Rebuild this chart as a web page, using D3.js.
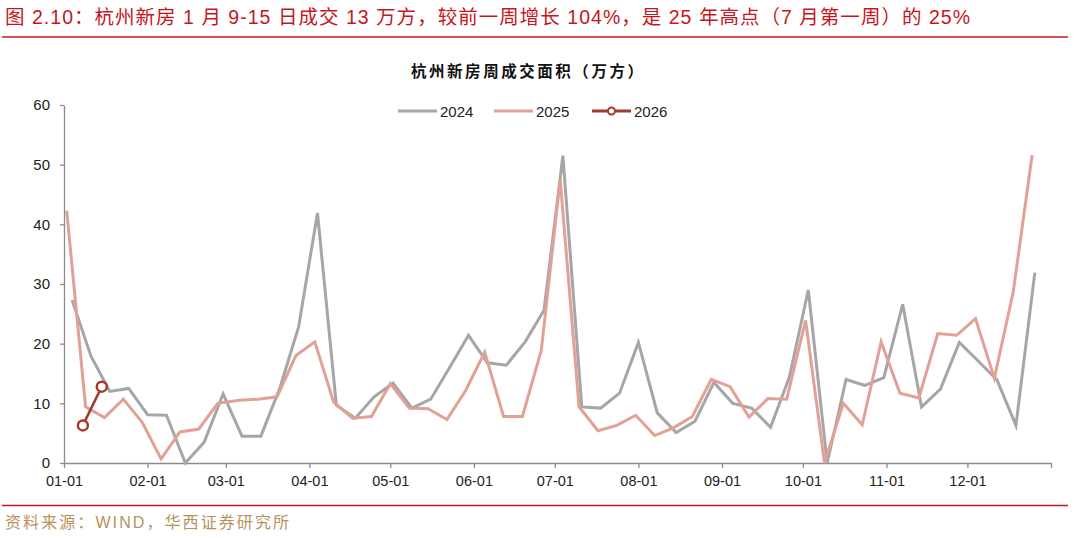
<!DOCTYPE html>
<html>
<head>
<meta charset="utf-8">
<script src="https://cdn.jsdelivr.net/npm/d3@7"></script>
<style>
  body { margin: 0; background: #fff; }
  svg { display: block; }
</style>
</head>
<body>
<svg id="chart" width="1080" height="538"></svg>
<script>
// weekly values (万方)
var seriesNames = ["2024", "2025", "2026"];
var seriesStart = ["2024-01-04", "2025-01-02", "2026-01-08"];
var values2024 = [27.3, 17.9, 12.0, 12.5, 8.1, 8.0, 0.0, 3.5, 11.6, 4.5, 4.5, 12.5, 22.8, 41.9, 9.7, 7.5,
    11.1, 13.4, 9.2, 10.7, 16.0, 21.4, 16.8, 16.4, 20.3, 25.6, 51.5, 9.4, 9.2, 11.7, 20.2, 8.4,
    5.1, 7.0, 13.5, 10.0, 9.2, 6.0, 14.4, 29.0, 0.0, 14.0, 13.0, 14.3, 26.6, 9.4, 12.4, 20.2,
    17.1, 13.9, 6.3, 31.9];
var values2025 = [42.3, 9.4, 7.6, 10.7, 6.8, 0.7, 5.2, 5.7, 10.0, 10.5, 10.7, 11.1, 18.0, 20.3, 10.2, 7.5,
    7.8, 13.3, 9.2, 9.1, 7.3, 12.2, 18.6, 7.8, 7.8, 18.9, 47.5, 9.4, 5.4, 6.3, 8.0, 4.6,
    5.9, 7.8, 14.0, 12.8, 7.7, 10.8, 10.7, 23.9, 0.0, 10.0, 6.4, 20.3, 11.7, 10.9, 21.7, 21.4,
    24.2, 14.2, 28.7, 51.6];
var values2026 = [6.3, 12.8];
var yTicks = [0, 10, 20, 30, 40, 50, 60];

var titleText = "图 2.10：杭州新房 1 月 9-15 日成交 13 万方，较前一周增长 104%，是 25 年高点（7 月第一周）的 25%";
var chartTitle = "杭州新房周成交面积（万方）";
var sourceText = "资料来源：WIND，华西证券研究所";

var colors = {"2024": "#a6a6a6", "2025": "#e2a196", "2026": "#a33a2e"};

var svg = d3.select("#chart"),
    margins = {"left": 64, "right": 29, "top": 105, "bottom": 75},
    width = 1080, height = 538;

var cjk = "'Liberation Sans', Arial, 'Noto Sans CJK SC', sans-serif";

// header
svg.append("text").attr("x", 5).attr("y", 24)
    .attr("textLength", 965).attr("lengthAdjust", "spacing")
    .text(titleText).style("font-family", cjk).style("font-size", "19.5px").attr("fill", "#c8161d");
svg.append("line").attr("x1", 2).attr("x2", 1068).attr("y1", 37).attr("y2", 37)
    .attr("stroke", "#c8161d").attr("stroke-width", 1.5);
svg.append("text").attr("x", 527).attr("y", 77).attr("text-anchor", "middle")
    .attr("textLength", 232).attr("lengthAdjust", "spacing")
    .text(chartTitle).style("font-family", cjk).style("font-size", "15.5px").style("font-weight", "bold").attr("fill", "#111");

// footer
svg.append("line").attr("x1", 2).attr("x2", 1068).attr("y1", 505.5).attr("y2", 505.5)
    .attr("stroke", "#c8161d").attr("stroke-width", 1.5);
svg.append("text").attr("x", 5).attr("y", 528)
    .attr("textLength", 284).attr("lengthAdjust", "spacing")
    .text(sourceText).style("font-family", cjk).style("font-size", "16px").attr("fill", "#b8925e");

var x = d3.scaleTime()
    .domain([new Date(2024, 0, 1), new Date(2025, 0, 1)])
    .range([margins.left, width - margins.right]);
var y = d3.scaleLinear().domain([0, 60]).range([height - margins.bottom, margins.top]);

// put every week on the 2024 month-day axis
function toAxisDate(d) { return new Date(2024, d.getMonth(), d.getDate()); }

var allValues = {"2024": values2024, "2025": values2025, "2026": values2026};
var series = seriesNames.map(function(name, k) {
    var start = d3.timeParse("%Y-%m-%d")(seriesStart[k]);
    return {
        name: name,
        points: allValues[name].map(function(v, i) {
            return {date: toAxisDate(d3.timeDay.offset(start, 7 * i)), value: v};
        })
    };
});

// axes
var monthTicks = d3.timeMonth.range(new Date(2024, 0, 1), new Date(2025, 0, 2));
var xAxis = d3.axisBottom(x).tickValues(monthTicks)
    .tickFormat(function(d) { return d.getFullYear() === 2025 ? "" : d3.timeFormat("%m-%d")(d); })
    .tickSize(5).tickSizeOuter(0);
var gx = svg.append("g").attr("transform", "translate(0," + y(0) + ")").call(xAxis);
gx.select(".domain").attr("stroke", "#8c8c8c").attr("stroke-width", 1.3);
gx.selectAll(".tick line").attr("stroke", "#8c8c8c").attr("stroke-width", 1.3);
gx.selectAll(".tick text").attr("dy", "1.05em").attr("fill", "#222")
    .style("font-family", cjk).style("font-size", "14.5px");

var yAxis = d3.axisLeft(y).tickValues(yTicks).tickSize(4).tickSizeOuter(0);
var gy = svg.append("g").attr("transform", "translate(" + margins.left + ",0)").call(yAxis);
gy.select(".domain").attr("stroke", "#8c8c8c").attr("stroke-width", 1.3);
gy.selectAll(".tick line").attr("stroke", "#8c8c8c").attr("stroke-width", 1.3);
gy.selectAll(".tick text").attr("x", -14).attr("fill", "#222")
    .style("font-family", cjk).style("font-size", "15px");

// lines
var line = d3.line().x(function(d) { return x(d.date); }).y(function(d) { return y(d.value); });

svg.append("g").selectAll("path").data(series).enter().append("path")
    .attr("d", function(d) { return line(d.points); })
    .attr("fill", "none")
    .attr("stroke", function(d) { return colors[d.name]; })
    .attr("stroke-width", function(d) { return d.name === "2026" ? 2.5 : 3; })
    .attr("stroke-linejoin", "miter");

svg.append("g").selectAll("circle").data(series[2].points).enter().append("circle")
    .attr("cx", function(d) { return x(d.date); })
    .attr("cy", function(d) { return y(d.value); })
    .attr("r", 5).attr("fill", "#fff")
    .attr("stroke", colors["2026"]).attr("stroke-width", 2.5);

// legend
var legendX = [398, 494, 592];
var legend = svg.append("g").selectAll("g").data(seriesNames).enter().append("g")
    .attr("transform", function(d, i) { return "translate(" + legendX[i] + ",111)"; });
legend.append("line").attr("x1", 0).attr("x2", 39).attr("y1", 0).attr("y2", 0)
    .attr("stroke", function(d) { return colors[d]; }).attr("stroke-width", 3);
legend.filter(function(d) { return d === "2026"; }).append("circle")
    .attr("cx", 19.5).attr("cy", 0).attr("r", 3.5).attr("fill", "#fff")
    .attr("stroke", colors["2026"]).attr("stroke-width", 2);
legend.append("text").attr("x", 42).attr("y", 5.5).text(function(d) { return d; })
    .style("font-family", cjk).style("font-size", "15px").attr("fill", "#222");
</script>
</body>
</html>
